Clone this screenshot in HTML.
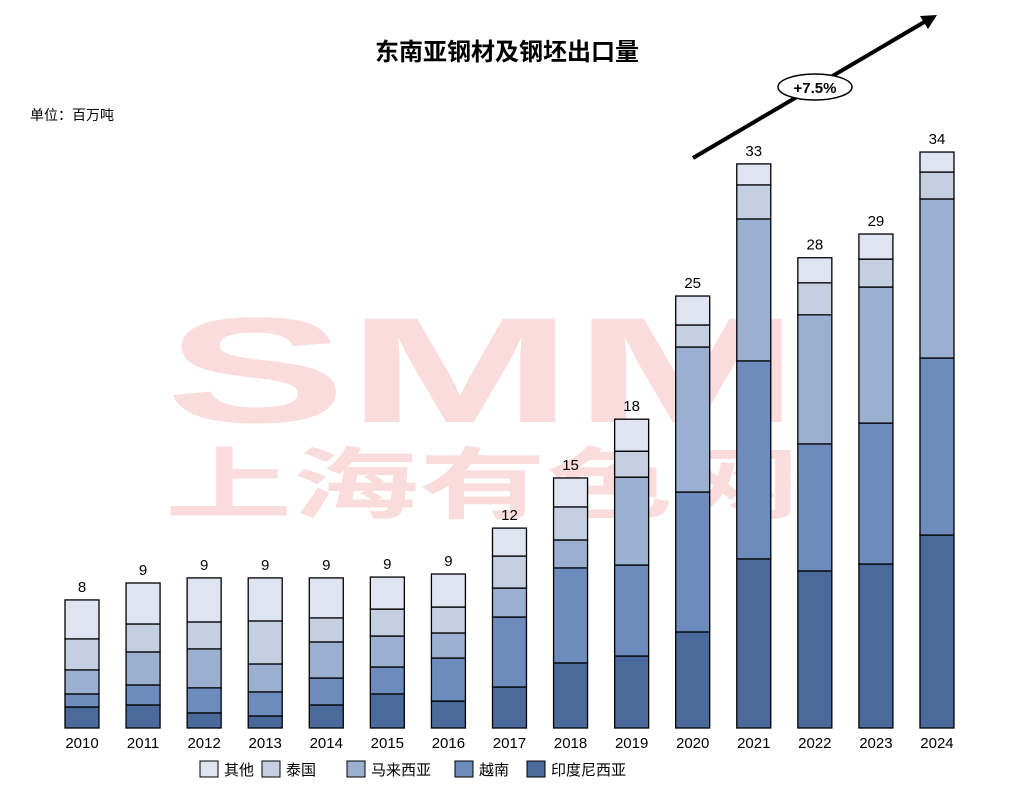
<!DOCTYPE html>
<html><head><meta charset="utf-8"><style>
body{margin:0;background:#fff;}
svg{display:block;font-family:"Liberation Sans","Noto Sans CJK SC",sans-serif;}
</style></head><body>
<svg id="chart" width="1024" height="796">
<text x="507" y="60" text-anchor="middle" font-size="24" font-weight="bold" fill="#000">东南亚钢材及钢坯出口量</text>
<text x="30" y="120" font-size="14" fill="#000">单位：百万吨</text>
<g>
<text x="165" y="422" font-size="150" font-weight="bold" fill="#fbdcdc" textLength="635" lengthAdjust="spacingAndGlyphs">SMM</text>
<text x="165" y="512" font-size="78" font-weight="bold" fill="#fbdcdc" textLength="635" lengthAdjust="spacingAndGlyphs">上海有色网</text>
</g>
<g id="bars"></g>
<g>
<line x1="693" y1="158" x2="926" y2="21" stroke="#000" stroke-width="4"/>
<polygon points="937,15 920,16 928,29" fill="#000"/>
<ellipse cx="815" cy="87" rx="37" ry="13" fill="#fff" stroke="#000" stroke-width="1.5"/>
<text x="815" y="93" text-anchor="middle" font-size="15" font-weight="bold">+7.5%</text>
</g>
<g id="legend"></g>
</svg>
<script>
const years=["2010","2011","2012","2013","2014","2015","2016","2017","2018","2019","2020","2021","2022","2023","2024"];
const seriesNames=["印度尼西亚","越南","马来西亚","泰国","其他"];
const indonesia=[1.24,1.36,0.89,0.71,1.36,2.01,1.59,2.42,3.84,4.25,5.67,9.98,9.27,9.68,11.39];
const vietnam=[0.77,1.18,1.48,1.42,1.59,1.59,2.54,4.13,5.61,5.37,8.26,11.69,7.50,8.32,10.45];
const malaysia=[1.42,1.95,2.30,1.65,2.13,1.83,1.48,1.71,1.65,5.19,8.56,8.38,7.62,8.03,9.39];
const thailand=[1.83,1.65,1.59,2.54,1.42,1.59,1.53,1.89,1.95,1.53,1.30,2.01,1.89,1.65,1.59];
const others=[2.30,2.42,2.60,2.54,2.36,1.89,1.95,1.65,1.71,1.89,1.71,1.24,1.48,1.48,1.18];
const totalLabels=["8","9","9","9","9","9","9","12","15","18","25","33","28","29","34"];
const colors=["#4a6a9b","#6d8cbd","#9bafd0","#c4cfe2","#dfe5f0"];
const segNames=["indonesia","vietnam","malaysia","thailand","others"];
const NS="http://www.w3.org/2000/svg";
const base=728,pxPerUnit=16.94,x0=82,step=61.07,bw=34;
const y=v=>base-v*pxPerUnit;
const xc=i=>x0+i*step;
const series=[indonesia,vietnam,malaysia,thailand,others];
const g=document.getElementById("bars");
years.forEach((yr,i)=>{
  let cum=0;
  series.forEach((s,k)=>{
    const r=document.createElementNS(NS,"rect");
    r.setAttribute("x",xc(i)-bw/2);
    r.setAttribute("y",y(cum+s[i]));
    r.setAttribute("width",bw);
    r.setAttribute("height",s[i]*pxPerUnit);
    r.setAttribute("fill",colors[k]);
    r.setAttribute("stroke","#000");
    r.setAttribute("stroke-width","1.3");
    
    
    g.appendChild(r);
    cum+=s[i];
  });
  const t=document.createElementNS(NS,"text");
  t.setAttribute("x",xc(i));t.setAttribute("y",y(cum)-8);
  t.setAttribute("text-anchor","middle");t.setAttribute("font-size","15");
  t.textContent=totalLabels[i];
  
  
  g.appendChild(t);
  const xl=document.createElementNS(NS,"text");
  xl.setAttribute("x",xc(i));xl.setAttribute("y",748);
  xl.setAttribute("text-anchor","middle");xl.setAttribute("font-size","15");
  xl.textContent=yr;
  
  
  g.appendChild(xl);
});
const lg=document.getElementById("legend");
const order=[4,3,2,1,0];
const lx=[200,262,347,455,527];
order.forEach((k,j)=>{
  const r=document.createElementNS(NS,"rect");
  r.setAttribute("x",lx[j]);r.setAttribute("y",761);r.setAttribute("width",18);r.setAttribute("height",16);
  r.setAttribute("fill",colors[k]);r.setAttribute("stroke","#000");r.setAttribute("stroke-width","1");
  
  
  lg.appendChild(r);
  const t=document.createElementNS(NS,"text");
  t.setAttribute("x",lx[j]+24);t.setAttribute("y",775);t.setAttribute("font-size","15");
  t.textContent=seriesNames[k];
  
  
  lg.appendChild(t);
});
</script>
</body></html>
